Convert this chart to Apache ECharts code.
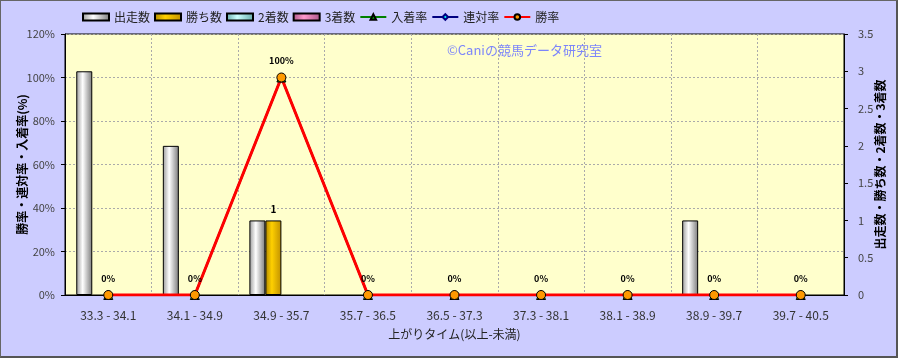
<!DOCTYPE html>
<html><head><meta charset="utf-8">
<script src="https://cdn.jsdelivr.net/npm/echarts@6/dist/echarts.min.js"></script>
<style>
html,body{margin:0;padding:0;background:#CCCCFF;}
#wrap{width:898px;height:358px;box-sizing:border-box;border:1px solid #666;border-right:2px solid #555;border-bottom:2px solid #555;}
#c{width:100%;height:100%;}
</style></head><body>
<div id="wrap"><div id="c"></div></div>
<script>
var categories = ['33.3 - 34.1','34.1 - 34.9','34.9 - 35.7','35.7 - 36.5','36.5 - 37.3','37.3 - 38.1','38.1 - 38.9','38.9 - 39.7','39.7 - 40.5'];
var runners = [3,2,1,0,0,0,0,1,0];
var wins = [0,0,1,0,0,0,0,0,0];
var seconds = [0,0,0,0,0,0,0,0,0];
var thirds = [0,0,0,0,0,0,0,0,0];
var placeRate = [0,0,100,0,0,0,0,0,0];
var rentaiRate = [0,0,100,0,0,0,0,0,0];
var winRate = [0,0,100,0,0,0,0,0,0];
var leftTicks = [0,120,20];
var rightTicks = [0,3.5,0.5];

var FONT = '"Noto Sans CJK JP","Noto Sans",sans-serif';
function grad(c0,c1,c2){
  return new echarts.graphic.LinearGradient(0,0,1,0,[{offset:0,color:c0},{offset:0.4,color:c1},{offset:1,color:c2}]);
}
function barData(arr){
  return arr.map(function(v){
    return v === 0 ? {value:v, itemStyle:{borderWidth:0, opacity:0}} : {value:v};
  });
}
var chart = echarts.init(document.getElementById('c'), null, {renderer:'canvas'});
var barBase = {type:'bar', yAxisIndex:1, barWidth:16, barGap:'0%', barCategoryGap:'26%'};
chart.setOption({
  backgroundColor:'#CCCCFF',
  animation:false,
  textStyle:{fontFamily:FONT},
  graphic:[{type:'text', left:446, top:43, style:{text:'©Caniの競馬データ研究室', fill:'rgba(110,120,255,0.9)', font:'13px '+FONT}}],
  legend:{
    left:81, top:10, padding:0, itemWidth:26, itemHeight:7, itemGap:4,
    textStyle:{fontSize:12, color:'#222', fontFamily:FONT},
    data:[
      {name:'出走数', icon:'rect'},{name:'勝ち数', icon:'rect'},{name:'2着数', icon:'rect'},{name:'3着数', icon:'rect'},
      '入着率','連対率','勝率']
  },
  grid:{left:64, right:52, top:33, bottom:61, outerBoundsMode:'none', show:true, backgroundColor:'#FFFFCC', borderColor:'#000', borderWidth:1},
  xAxis:{
    type:'category', data:categories,
    name:'上がりタイム(以上-未満)', nameLocation:'middle', nameGap:33, nameMoveOverlap:false,
    nameTextStyle:{fontSize:12, color:'#222'},
    axisLine:{lineStyle:{color:'#000'}},
    axisTick:{show:false},
    axisLabel:{fontSize:12, color:'#333', margin:14},
    splitLine:{show:true, lineStyle:{color:'#aaa', type:[2,2]}}
  },
  yAxis:[{
    type:'value', min:leftTicks[0], max:leftTicks[1], interval:leftTicks[2],
    name:'勝率・連対率・入着率(%)', nameLocation:'middle', nameGap:37, nameRotate:90, nameMoveOverlap:false,
    nameTextStyle:{fontSize:12, color:'#000', fontWeight:'bold'},
    axisLine:{show:true, lineStyle:{color:'#000'}},
    axisTick:{show:true, inside:false, length:4, lineStyle:{color:'#000'}},
    axisLabel:{formatter:'{value}%', fontSize:11, color:'#444', margin:10},
    splitLine:{show:true, lineStyle:{color:'#aaa', type:[2,2]}}
  },{
    type:'value', min:rightTicks[0], max:rightTicks[1], interval:rightTicks[2],
    name:'出走数・勝ち数・2着数・3着数', nameLocation:'middle', nameGap:30, nameRotate:90, nameMoveOverlap:false,
    nameTextStyle:{fontSize:12, color:'#000', fontWeight:'bold'},
    axisLine:{show:true, lineStyle:{color:'#000'}},
    axisTick:{show:true, inside:false, length:4, lineStyle:{color:'#000'}},
    axisLabel:{fontSize:11, color:'#444', margin:14},
    splitLine:{show:false}
  }],
  series:[
    Object.assign({}, barBase, {name:'出走数', data:barData(runners),
      itemStyle:{color:grad('#9a9a9a','#ffffff','#7a7a7a'), borderColor:'#000', borderWidth:1}}),
    Object.assign({}, barBase, {name:'勝ち数', data:barData(wins),
      itemStyle:{color:grad('#b08800','#ffd000','#c09000'), borderColor:'#000', borderWidth:1},
      label:{show:true, position:'top', distance:6, fontSize:10, fontWeight:'bold', color:'#000',
        formatter:function(p){return p.value>0?String(p.value):'';}}}),
    Object.assign({}, barBase, {name:'2着数', data:barData(seconds),
      itemStyle:{color:grad('#66aaaa','#ccffff','#66aaaa'), borderColor:'#000', borderWidth:1}}),
    Object.assign({}, barBase, {name:'3着数', data:barData(thirds),
      itemStyle:{color:grad('#aa5588','#ff99cc','#aa5588'), borderColor:'#000', borderWidth:1}}),
    {type:'line', name:'入着率', data:placeRate, yAxisIndex:0, symbol:'triangle', symbolSize:9,
      lineStyle:{color:'#008000', width:2}, itemStyle:{color:'#00aa00', borderColor:'#000', borderWidth:1}},
    {type:'line', name:'連対率', data:rentaiRate, yAxisIndex:0, symbol:'diamond', symbolSize:8,
      lineStyle:{color:'#000080', width:2}, itemStyle:{color:'#00ffff', borderColor:'#000080', borderWidth:1}},
    {type:'line', name:'勝率', data:winRate, yAxisIndex:0, symbol:'circle', symbolSize:9,
      lineStyle:{color:'#ff0000', width:3}, itemStyle:{color:'#ff9900', borderColor:'#000', borderWidth:1},
      label:{show:true, position:'top', distance:7, fontSize:9, fontWeight:'bold', color:'#000', formatter:'{c}%'}}
  ]
});
</script></body></html>
